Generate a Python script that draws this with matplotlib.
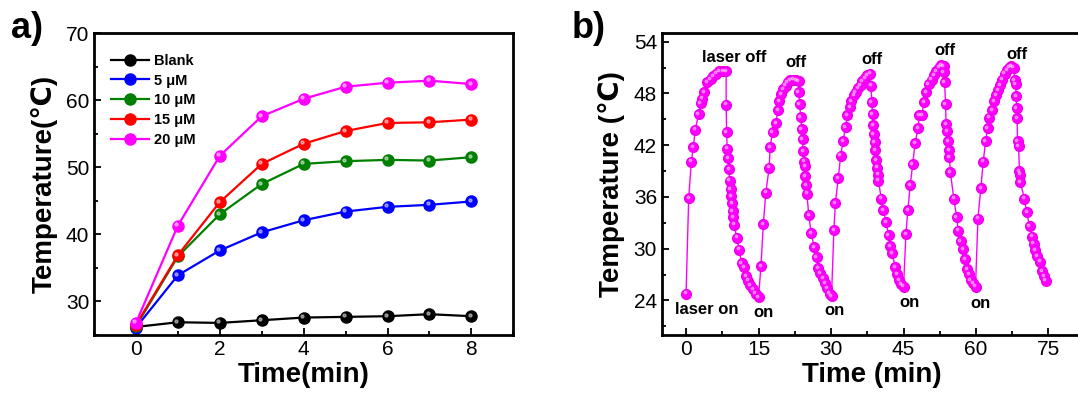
import numpy as np
import matplotlib
matplotlib.use('Agg')
import matplotlib.pyplot as plt
from matplotlib.ticker import MultipleLocator
from matplotlib.transforms import offset_copy

plt.rcParams['font.family'] = ['Liberation Sans', 'DejaVu Sans']

# a) heating curves at different concentrations
timeA = [0, 1, 2, 3, 4, 5, 6, 7, 8]
labelsA = ['Blank', '5 μM', '10 μM', '15 μM', '20 μM']
colorsA = ['black', '#0000ff', '#008000', '#ff0000', '#ff00ff']
blank = [26.2, 26.9, 26.8, 27.2, 27.6, 27.7, 27.8, 28.1, 27.8]
c5 = [26.1, 33.9, 37.6, 40.3, 42.1, 43.4, 44.1, 44.4, 44.9]
c10 = [26.3, 36.7, 43.0, 47.5, 50.5, 50.9, 51.1, 51.0, 51.5]
c15 = [26.5, 36.9, 44.8, 50.5, 53.5, 55.4, 56.6, 56.7, 57.1]
c20 = [26.8, 41.3, 51.7, 57.6, 60.2, 62.0, 62.6, 62.9, 62.4]
seriesA = [blank, c5, c10, c15, c20]

# b) on/off cycles
timeB = [0, 0.55, 1.1, 1.5, 1.9, 2.6, 3.0, 3.4, 3.8, 4.4, 5.1, 5.6, 6.25, 6.9, 7.7, 8.3,
         8.3, 8.4, 8.5, 8.7, 8.9, 9.0, 9.2, 9.4, 9.5, 9.65, 9.8, 9.9, 10.5, 11.0, 11.5, 12.0,
         12.4, 12.8, 13.3, 13.9, 14.4, 15.0,
         15.5, 16.0, 16.5, 17.2, 17.4, 17.9, 18.6, 19.0, 19.3, 19.7, 20.1, 20.6, 21.0, 21.6,
         22.1, 22.8, 23.3,
         23.3, 23.5, 23.7, 23.9, 24.1, 24.2, 24.4, 24.6, 24.7, 24.9, 25.0, 25.4, 25.9, 26.5,
         27.0, 27.3, 27.8, 28.3, 28.8, 29.2, 29.7, 30.1,
         30.6, 30.9, 31.5, 32.0, 32.5, 33.0, 33.4, 33.9, 34.2, 34.7, 35.1, 35.6, 36.1, 36.5,
         37.0, 37.5, 38.1,
         38.3, 38.4, 38.6, 38.7, 38.8, 39.0, 39.2, 39.4, 39.5, 39.7, 39.8, 40.4, 40.8, 41.4,
         41.9, 42.2, 42.6, 43.3, 43.6, 44.1, 44.5, 45.0,
         45.5, 45.9, 46.4, 46.9, 47.4, 48.0, 48.3, 48.8, 49.2, 49.7, 50.2, 50.8, 51.3, 51.8,
         52.3, 52.8, 53.3,
         53.3, 53.5, 53.7, 53.8, 54.0, 54.2, 54.4, 54.5, 54.7, 55.4, 56.0, 56.3, 56.8, 57.3,
         57.7, 58.2, 58.5, 58.9, 59.4, 59.9,
         60.4, 61.0, 61.5, 62.0, 62.4, 62.7, 63.3, 63.8, 64.1, 64.5, 65.0, 65.4, 65.9, 66.4,
         66.8, 67.3, 67.8,
         68.0, 68.2, 68.3, 68.4, 68.5, 68.6, 68.8, 69.0, 69.1, 69.2, 70.0, 70.5, 71.1, 71.6,
         71.9, 72.3, 72.7, 73.2, 73.6, 74.1, 74.4]
tempB = [24.8, 35.9, 40.1, 41.8, 43.8, 45.6, 46.9, 47.4, 48.2, 49.3, 49.7, 50.0, 50.3, 50.6, 50.6, 50.6,
         46.7, 43.5, 41.6, 40.5, 39.2, 37.9, 36.9, 36.1, 35.3, 34.4, 33.7, 32.8, 31.3, 29.9, 28.3, 27.9,
         26.8, 26.3, 25.8, 25.3, 24.8, 24.4,
         28.0, 32.9, 36.5, 39.4, 41.8, 43.5, 44.6, 46.1, 47.1, 47.9, 48.5, 48.9, 49.3, 49.5,
         49.6, 49.5, 49.4,
         48.2, 46.8, 45.3, 43.9, 42.7, 41.3, 40.1, 39.6, 38.4, 37.4, 36.4, 33.9, 31.8, 30.2,
         29.0, 27.8, 27.2, 26.6, 26.0, 25.4, 24.8, 24.5,
         32.2, 35.3, 38.2, 40.8, 42.5, 44.1, 45.5, 46.4, 47.1, 47.8, 48.2, 48.6, 49.0, 49.4,
         49.8, 50.1, 50.3,
         48.9, 47.0, 45.6, 44.3, 43.3, 42.4, 41.4, 40.3, 39.4, 38.6, 37.9, 35.8, 34.5, 33.1,
         31.6, 30.3, 29.5, 27.9, 27.1, 26.4, 25.9, 25.6,
         31.7, 34.5, 37.4, 39.8, 42.2, 44.0, 45.5, 45.5, 47.0, 48.2, 49.1, 49.6, 50.1, 50.6,
         51.0, 51.3, 51.2,
         50.5, 49.3, 46.8, 44.4, 43.6, 42.5, 41.4, 40.6, 38.9, 35.8, 33.7, 32.1, 30.9, 30.0,
         28.8, 27.6, 27.1, 26.4, 26.0, 25.6,
         33.5, 37.0, 40.1, 42.5, 44.0, 45.2, 46.1, 47.1, 47.8, 48.4, 49.0, 49.6, 50.3, 50.7,
         51.0, 51.2, 51.0,
         49.5, 49.1, 47.7, 46.3, 45.1, 42.5, 41.9, 39.0, 38.6, 37.7, 35.8, 34.2, 32.6, 31.4,
         30.6, 29.8, 29.1, 28.5, 27.4, 26.8, 26.3]

notesB = ['laser on', 'laser off', 'on', 'off', 'on', 'off', 'on', 'off', 'on', 'off']
notesX = [4.2, 9.9, 16.0, 22.8, 30.8, 38.5, 46.3, 53.5, 61.0, 68.5]
notesY = [22.9, 52.2, 22.6, 51.6, 22.8, 51.9, 23.8, 53.0, 23.7, 52.5]

fig = plt.figure(figsize=(10.78, 4.01), dpi=100)
axA = fig.add_axes([0.0872, 0.1646, 0.389, 0.753])
axB = fig.add_axes([0.614, 0.1646, 0.39, 0.753])

# small highlight shifted up-left so the markers look like shaded balls
hlA = offset_copy(axA.transData, fig=fig, x=-1.5, y=1.5, units='dots')
hlB = offset_copy(axB.transData, fig=fig, x=-1.2, y=1.2, units='dots')

for ys, lab, col in zip(seriesA, labelsA, colorsA):
    axA.plot(timeA, ys, '-o', color=col, lw=1.6, ms=8, mec=col, mfc=col, label=lab)
    axA.plot(timeA, ys, 'o', color='white', ms=2.2, alpha=0.45, lw=0, transform=hlA)

axA.set_xlim(-1, 9)
axA.set_ylim(25, 70)
axA.xaxis.set_major_locator(MultipleLocator(2))
axA.xaxis.set_minor_locator(MultipleLocator(1))
axA.yaxis.set_minor_locator(MultipleLocator(5))
axA.set_yticks([30, 40, 50, 60, 70])
axA.set_xlabel('Time(min)', fontsize=20, fontweight='bold', labelpad=2)
axA.set_ylabel('Temperature(℃)', fontsize=20, fontweight='bold', labelpad=6)
leg = axA.legend(loc='upper left', frameon=False, prop={'size': 10.5, 'weight': 'bold'},
                 handlelength=2.6, handletextpad=0.3, labelspacing=0.4,
                 bbox_to_anchor=(0.01, 0.975))
fig.text(0.01, 0.905, 'a)', fontsize=26, fontweight='bold')

axB.plot(timeB, tempB, '-o', color='#ff00ff', lw=1.0, ms=7, mec='#ee00ee')
axB.plot(timeB, tempB, 'o', color='white', ms=1.8, alpha=0.4, lw=0, transform=hlB)
for t, x, y in zip(notesB, notesX, notesY):
    axB.text(x, y, t, fontsize=12, fontweight='bold', ha='center', va='center')
axB.set_xlim(-5, 82)
axB.set_ylim(20, 55)
axB.xaxis.set_major_locator(MultipleLocator(15))
axB.xaxis.set_minor_locator(MultipleLocator(7.5))
axB.set_yticks([24, 30, 36, 42, 48, 54])
axB.yaxis.set_minor_locator(MultipleLocator(3))
axB.set_xlabel('Time (min)', fontsize=20, fontweight='bold', labelpad=2)
axB.set_ylabel('Temperature (℃)', fontsize=20, fontweight='bold', labelpad=6)
axB.spines['right'].set_visible(False)
fig.text(0.53, 0.905, 'b)', fontsize=26, fontweight='bold')

for ax in [axA, axB]:
    ax.tick_params(which='both', direction='in', labelsize=15, width=1.3)
    ax.tick_params(which='major', length=5)
    ax.tick_params(which='minor', length=3)
    for s in ax.spines.values():
        s.set_linewidth(2)

fig.savefig('out.png', dpi=100)
